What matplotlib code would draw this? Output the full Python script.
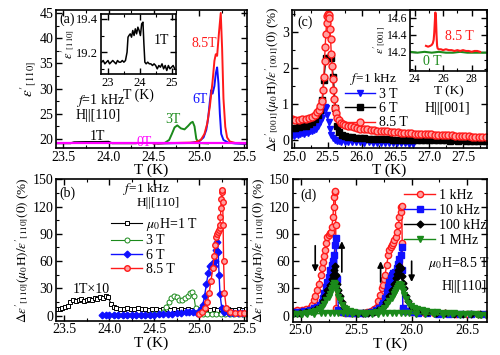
#coding:utf-8
'''
Four panels of dielectric constant vs temperature, with two insets.
'''
import matplotlib
matplotlib.use('Agg')
import matplotlib.pyplot as plt
from matplotlib.ticker import MultipleLocator

plt.rcParams['font.family'] = ['Liberation Serif', 'DejaVu Serif']
plt.rcParams['mathtext.fontset'] = 'stix'
plt.rcParams['font.size'] = 10
plt.rcParams['axes.linewidth'] = 1.2

RED = '#ff1a1a'
PINK = '#ffa0a0'
BLUE = '#1010ff'
GREEN = '#1b8a1b'
MAG = '#ff00ff'

# ---- panel (a): eps'[110] vs T, H||[110], f=1 kHz
a_T0 = [23.42, 23.8, 24.2, 24.6, 25.0, 25.3, 25.53]
a_e0 = [19.1, 19.1, 19.1, 19.1, 19.1, 19.1, 19.1]
a_T1 = [23.42, 23.58, 23.62, 23.75, 23.9, 24.0, 24.04, 24.3]
a_e1 = [19.15, 19.15, 19.35, 19.4, 19.4, 19.45, 19.15, 19.15]
a_T3 = [24.55, 24.62, 24.67, 24.70, 24.73, 24.76, 24.80, 24.84, 24.88, 24.91, 24.93, 24.95, 24.97, 25.00, 25.10]
a_e3 = [19.1, 19.2, 19.8, 21.0, 22.3, 22.7, 22.1, 21.9, 22.6, 23.2, 23.4, 22.5, 20.0, 19.2, 19.1]
a_T6 = [24.5, 24.9, 25.0, 25.05, 25.08, 25.10, 25.12, 25.135, 25.15, 25.17, 25.185, 25.2, 25.215, 25.23, 25.245, 25.27, 25.32, 25.4, 25.53]
a_e6 = [19.1, 19.2, 19.5, 20.3, 21.8, 24.0, 27.5, 29.7, 29.0, 30.5, 33.0, 34.2, 31.0, 25.0, 21.0, 19.8, 19.3, 19.1, 19.0]
a_T85 = [24.5, 24.95, 25.02, 25.06, 25.09, 25.12, 25.15, 25.17, 25.185, 25.2, 25.22, 25.24, 25.255, 25.27, 25.29, 25.31, 25.34, 25.4, 25.53]
a_e85 = [19.1, 19.3, 19.8, 21.0, 23.0, 26.5, 31.5, 35.5, 36.8, 36.5, 41.0, 45.0, 38.0, 28.0, 22.4, 20.3, 19.5, 19.2, 19.1]

# inset of (a): 1T zoom
ia_T = [22.80, 22.85, 22.90, 22.95, 23.00, 23.05, 23.10, 23.15, 23.20, 23.25,
        23.30, 23.35, 23.40, 23.45, 23.50, 23.55, 23.60, 23.63, 23.66, 23.70,
        23.74, 23.78, 23.82, 23.86, 23.90, 23.94, 23.98, 24.02, 24.06, 24.10,
        24.13, 24.16, 24.20, 24.25, 24.30, 24.35, 24.40, 24.45, 24.50, 24.55,
        24.60, 24.65, 24.70, 24.75, 24.80, 24.85, 24.90, 24.95, 25.00, 25.05, 25.10]
ia_e = [19.14, 19.15, 19.13, 19.14, 19.15, 19.13, 19.14, 19.15, 19.14, 19.13,
        19.15, 19.14, 19.14, 19.15, 19.14, 19.15, 19.20, 19.29, 19.30, 19.31,
        19.29, 19.33, 19.30, 19.34, 19.31, 19.35, 19.33, 19.30, 19.37, 19.38,
        19.25, 19.14, 19.13, 19.14, 19.13, 19.13, 19.12, 19.13, 19.12, 19.10,
        19.12, 19.11, 19.13, 19.10, 19.12, 19.09, 19.12, 19.10, 19.11, 19.12, 19.10]

# ---- panel (b): relative change, H||[110]
b_T1 = [23.42, 23.45, 23.48, 23.51, 23.54, 23.57, 23.60, 23.63, 23.66, 23.69,
        23.72, 23.75, 23.78, 23.81, 23.84, 23.87, 23.90, 23.93, 23.96, 23.99,
        24.02, 24.05, 24.08, 24.12, 24.16, 24.20, 24.24, 24.28, 24.32, 24.36,
        24.40, 24.44, 24.48, 24.52, 24.56, 24.60, 24.64, 24.68, 24.72, 24.76,
        24.80, 24.84, 24.88, 24.92, 24.96, 25.00, 25.04, 25.08, 25.12, 25.16,
        25.20, 25.24, 25.28, 25.32, 25.36, 25.40, 25.44, 25.48, 25.52, 25.55]
b_y1 = [7, 7, 8, 9, 11, 15, 17, 16, 17, 18,
        16, 17, 18, 17, 19, 18, 20, 19, 22, 20,
        13, 9, 8, 7, 7, 8, 7, 7, 8, 7,
        7, 6, 7, 7, 6, 7, 7, 6, 7, 6,
        7, 6, 7, 6, 6, 7, 6, 7, 6, 7,
        6, 7, 6, 7, 6, 6, 7, 6, 7, 6]
b_T3 = [24.05, 24.10, 24.15, 24.20, 24.25, 24.30, 24.35, 24.40, 24.45, 24.50,
        24.55, 24.60, 24.63, 24.66, 24.69, 24.72, 24.75, 24.78, 24.81, 24.84,
        24.87, 24.90, 24.92, 24.94, 24.96, 24.99, 25.04, 25.09, 25.14, 25.19,
        25.24, 25.29, 25.34, 25.39, 25.44, 25.49, 25.54]
b_y3 = [1, 1, 1, 1, 1, 1, 1, 1, 1, 1.5,
        2, 4, 9, 15, 19, 21, 20, 17, 17, 19,
        22, 25, 26, 22, 8, 3, 2, 2, 2, 2,
        2, 2, 2, 2, 2, 2, 2]
b_T6 = [23.92, 23.96, 24.00, 24.05, 24.10, 24.15, 24.20, 24.25, 24.30, 24.35,
        24.40, 24.45, 24.50, 24.55, 24.60, 24.65, 24.70, 24.75, 24.80, 24.85,
        24.89, 24.93, 24.97, 25.00, 25.02, 25.04, 25.06, 25.08, 25.10, 25.12,
        25.14, 25.16, 25.18, 25.19, 25.20, 25.21, 25.22, 25.23, 25.25, 25.28,
        25.33, 25.38, 25.43, 25.48, 25.54]
b_y6 = [1, 1, 1, 1, 1, 1, 1, 1, 1, 1,
        1, 1, 1, 1.5, 1.5, 2, 2, 2.5, 3, 3.5,
        4, 3.5, 3, 4, 7, 12, 22, 35, 47, 55,
        57, 55, 60, 72, 81, 70, 45, 24, 8, 4,
        3, 3, 3, 3, 3]
b_T85 = [25.00, 25.03, 25.06, 25.09, 25.11, 25.13, 25.15, 25.165, 25.175, 25.185,
         25.195, 25.205, 25.215, 25.225, 25.23, 25.235, 25.24, 25.245, 25.25, 25.255,
         25.26, 25.265, 25.27, 25.28, 25.30, 25.34, 25.40, 25.45, 25.50, 25.55]
b_y85 = [2, 4, 8, 15, 25, 38, 52, 66, 78, 86,
         90, 92, 94, 96, 100, 108, 118, 128, 136, 138,
         125, 100, 60, 25, 8, 4, 3, 3, 3, 3]

# ---- panel (c): relative change, H||[001]
c_T3 = [24.97, 25.00, 25.03, 25.06, 25.09, 25.12, 25.15, 25.18, 25.21, 25.24,
        25.27, 25.30, 25.33, 25.36, 25.39, 25.41, 25.43, 25.45, 25.47, 25.49,
        25.51, 25.53, 25.55, 25.57, 25.60, 25.63, 25.66, 25.70, 25.75, 25.80,
        25.86, 25.92, 25.98, 26.04, 26.10, 26.16, 26.22, 26.28, 26.34, 26.40,
        26.46, 26.52, 26.58, 26.64, 26.70, 26.76]
c_y3 = [0.15, 0.12, 0.18, 0.14, 0.17, 0.20, 0.18, 0.22, 0.20, 0.24,
        0.25, 0.28, 0.32, 0.40, 0.50, 0.62, 0.80, 0.92, 0.88, 0.70,
        0.50, 0.30, 0.15, 0.05, 0.00, -0.02, -0.03, -0.04, -0.05, -0.05,
        -0.06, -0.05, -0.06, -0.07, -0.06, -0.07, -0.08, -0.07, -0.08, -0.08,
        -0.08, -0.09, -0.08, -0.09, -0.10, -0.10]
c_T6 = [24.97, 25.02, 25.07, 25.12, 25.17, 25.22, 25.27, 25.31, 25.35, 25.39,
        25.42, 25.44, 25.47, 25.51, 25.55, 25.58, 25.61, 25.64, 25.67, 25.71,
        25.75, 25.80, 25.86, 25.92, 25.98, 26.04, 26.10, 26.16, 26.22, 26.28,
        26.34, 26.40, 26.46, 26.52, 26.58, 26.64, 26.70, 26.76, 26.82, 26.88,
        26.94, 27.00, 27.06, 27.12, 27.18, 27.24, 27.30, 27.36, 27.42, 27.48,
        27.54, 27.60, 27.66, 27.72, 27.78, 27.83]
c_y6 = [0.35, 0.33, 0.36, 0.38, 0.40, 0.44, 0.50, 0.58, 0.70, 0.85,
        1.12, 1.68, 2.28, 2.28, 2.28, 1.75, 0.90, 0.40, 0.22, 0.15,
        0.12, 0.10, 0.08, 0.06, 0.05, 0.05, 0.04, 0.03, 0.03, 0.02,
        0.02, 0.02, 0.01, 0.01, 0.00, 0.00, 0.01, 0.00, -0.01, 0.00,
        -0.01, 0.00, -0.01, -0.01, 0.00, -0.01, -0.02, -0.01, -0.02, -0.01,
        -0.02, -0.02, -0.03, -0.02, -0.03, -0.03]
c_T85 = [24.97, 25.02, 25.07, 25.12, 25.17, 25.22, 25.27, 25.31, 25.34, 25.37,
         25.39, 25.41, 25.43, 25.44, 25.45, 25.46, 25.47, 25.48, 25.49, 25.50,
         25.51, 25.52, 25.53, 25.54, 25.55, 25.56, 25.57, 25.58, 25.59, 25.60,
         25.62, 25.64, 25.66, 25.69, 25.72, 25.76, 25.80, 25.84, 25.88, 25.93,
         25.98, 26.03, 26.08, 26.13, 26.18, 26.23, 26.28, 26.33, 26.38, 26.43,
         26.48, 26.53, 26.58, 26.63, 26.68, 26.73, 26.78, 26.83, 26.88, 26.93,
         26.98, 27.03, 27.08, 27.13, 27.18, 27.23, 27.28, 27.33, 27.38, 27.43,
         27.48, 27.53, 27.58, 27.63, 27.68, 27.73, 27.78, 27.83]
c_y85 = [0.58, 0.55, 0.57, 0.60, 0.58, 0.62, 0.64, 0.70, 0.78, 0.85,
         0.95, 1.10, 1.40, 1.75, 2.20, 2.60, 2.95, 3.25, 3.45, 3.50,
         3.48, 3.40, 3.10, 2.80, 2.40, 2.05, 1.70, 1.40, 1.15, 0.90,
         0.75, 0.62, 0.55, 0.48, 0.45, 0.42, 0.40, 0.38, 0.36, 0.33,
         0.32, 0.30, 0.30, 0.28, 0.27, 0.26, 0.26, 0.25, 0.24, 0.23,
         0.22, 0.22, 0.21, 0.20, 0.20, 0.19, 0.18, 0.18, 0.17, 0.17,
         0.16, 0.16, 0.15, 0.15, 0.14, 0.14, 0.13, 0.13, 0.12, 0.12,
         0.12, 0.11, 0.11, 0.10, 0.10, 0.10, 0.09, 0.09]

# inset of (c): eps'[001]
ic_T85 = [24.80, 24.95, 25.10, 25.20, 25.28, 25.34, 25.38, 25.42, 25.46, 25.50,
          25.54, 25.58, 25.62, 25.70, 25.85, 26.00, 26.20, 26.40, 26.60, 26.80,
          27.00, 27.20, 27.40, 27.60, 27.80, 28.00, 28.20, 28.40, 28.60]
ic_e85 = [14.27, 14.26, 14.27, 14.28, 14.30, 14.34, 14.42, 14.55, 14.66, 14.60,
          14.40, 14.27, 14.24, 14.23, 14.23, 14.22, 14.23, 14.22, 14.22, 14.21,
          14.22, 14.21, 14.22, 14.21, 14.21, 14.20, 14.21, 14.21, 14.20]
ic_T0 = [23.7, 24.2, 24.7, 25.2, 25.7, 26.2, 26.7, 27.2, 27.7, 28.2, 28.7, 29.05]
ic_e0 = [14.20, 14.19, 14.20, 14.19, 14.20, 14.19, 14.19, 14.20, 14.19, 14.19, 14.19, 14.19]
ic_yticks = [14.2, 14.4, 14.6]

# ---- panel (d): frequency dependence at 8.5 T
d_T1 = [24.93, 24.97, 25.01, 25.05, 25.08, 25.10, 25.12, 25.13, 25.15, 25.16,
        25.18, 25.19, 25.20, 25.21, 25.22, 25.23, 25.24, 25.25, 25.26, 25.27,
        25.28, 25.29, 25.295, 25.30, 25.305, 25.31, 25.315, 25.32, 25.36, 25.40,
        25.44, 25.48, 25.52, 25.56, 25.60, 25.63, 25.66, 25.685, 25.70, 25.715,
        25.73, 25.74, 25.75, 25.76, 25.775, 25.79, 25.80, 25.81, 25.82, 25.83,
        25.845, 25.86, 25.87, 25.88, 25.89, 25.90, 25.905, 25.91, 25.915, 25.92,
        25.95, 26.00, 26.06, 26.12, 26.20, 26.30, 26.40, 26.50, 26.60, 26.67]
d_y1 = [5, 6, 6, 7, 9, 12, 17, 22, 28, 35,
        45, 52, 59, 66, 72, 80, 86, 89, 91, 92,
        98, 108, 120, 131, 136, 137, 100, 8, 4, 3,
        3, 3, 3, 3, 4, 5, 7, 10, 16, 23,
        30, 34, 40, 45, 56, 67, 72, 76, 78, 80,
        83, 86, 92, 100, 108, 114, 119, 121, 80, 8,
        5, 4, 4, 3, 3, 3, 2, 2, 2, 2]
d_T2 = [24.93, 24.98, 25.03, 25.08, 25.12, 25.15, 25.17, 25.19, 25.20, 25.21,
        25.23, 25.24, 25.25, 25.265, 25.28, 25.29, 25.30, 25.31, 25.32, 25.325,
        25.34, 25.38, 25.43, 25.48, 25.53, 25.58, 25.63, 25.68, 25.71, 25.73,
        25.745, 25.76, 25.775, 25.79, 25.80, 25.81, 25.82, 25.835, 25.85, 25.865,
        25.88, 25.89, 25.90, 25.91, 25.915, 25.92, 25.95, 26.00, 26.06, 26.14,
        26.24, 26.34, 26.44, 26.54, 26.64]
d_y2 = [4, 4, 5, 6, 8, 10, 12, 15, 20, 25,
        32, 37, 43, 50, 56, 60, 67, 78, 85, 40,
        6, 4, 3, 3, 3, 3, 4, 6, 9, 12,
        14, 20, 26, 32, 37, 42, 45, 47, 48, 52,
        57, 62, 67, 76, 50, 8, 5, 4, 3, 3,
        2, 2, 2, 2, 2]
d_T3 = [24.93, 24.99, 25.05, 25.10, 25.14, 25.17, 25.20, 25.22, 25.24, 25.26,
        25.28, 25.29, 25.30, 25.31, 25.32, 25.33, 25.34, 25.35, 25.37, 25.39,
        25.42, 25.46, 25.51, 25.56, 25.61, 25.66, 25.70, 25.74, 25.77, 25.80,
        25.82, 25.84, 25.86, 25.87, 25.88, 25.89, 25.90, 25.91, 25.92, 25.93,
        25.95, 25.97, 26.00, 26.04, 26.09, 26.15, 26.22, 26.30, 26.38, 26.46,
        26.54, 26.62]
d_y3 = [3, 3, 4, 5, 7, 10, 16, 22, 28, 34,
        40, 45, 50, 55, 45, 35, 28, 22, 15, 10,
        6, 4, 3, 3, 3, 4, 6, 10, 15, 22,
        28, 35, 42, 46, 50, 55, 52, 44, 36, 30,
        22, 16, 10, 7, 5, 4, 3, 3, 2, 2,
        2, 2]
d_T4 = [24.93, 24.97, 25.01, 25.05, 25.09, 25.13, 25.16, 25.19, 25.21, 25.23,
        25.25, 25.26, 25.27, 25.28, 25.29, 25.30, 25.31, 25.32, 25.33, 25.34,
        25.35, 25.37, 25.39, 25.41, 25.44, 25.48, 25.52, 25.56, 25.60, 25.64,
        25.68, 25.72, 25.75, 25.78, 25.80, 25.82, 25.84, 25.85, 25.86, 25.87,
        25.88, 25.89, 25.90, 25.91, 25.92, 25.93, 25.95, 25.97, 25.99, 26.02,
        26.05, 26.09, 26.13, 26.18, 26.23, 26.28, 26.33, 26.38, 26.43, 26.48,
        26.53, 26.58, 26.63, 26.67]
d_y4 = [2, 2, 2, 3, 4, 5, 7, 10, 13, 17,
        21, 24, 28, 31, 34, 36, 35, 31, 26, 21,
        17, 12, 9, 7, 5, 4, 3, 3, 3, 3,
        4, 6, 9, 13, 16, 20, 24, 26, 28, 30,
        33, 35, 34, 31, 27, 23, 18, 14, 11, 8,
        7, 6, 5, 4, 4, 3, 3, 3, 2, 2,
        2, 2, 1, 1]
# 1 MHz return sweep (baseline branch)
d_T4r = [26.67, 26.60, 26.52, 26.44, 26.36, 26.28, 26.20, 26.12, 26.04, 25.98,
         25.94, 25.90, 25.86, 25.82, 25.78, 25.74, 25.70, 25.64, 25.58, 25.52,
         25.46, 25.42, 25.38, 25.34, 25.30, 25.26, 25.22, 25.18, 25.12, 25.06,
         25.00, 24.93]
d_y4r = [1, 1, 1.5, 1, 1.5, 1, 1.5, 2, 2, 2.5,
         3, 3, 3, 3, 2.5, 2.5, 2, 2, 2, 2,
         2, 2.5, 3, 3, 3, 3, 3, 2.5, 2, 2,
         1.5, 1.5]


def style(ax, xmaj, xmin, ymaj, ymin, size=10):
    ax.xaxis.set_major_locator(MultipleLocator(xmaj))
    ax.xaxis.set_minor_locator(MultipleLocator(xmin))
    ax.yaxis.set_major_locator(MultipleLocator(ymaj))
    ax.yaxis.set_minor_locator(MultipleLocator(ymin))
    ax.tick_params(which='both', direction='in', top=True, right=True, labelsize=size, pad=2)
    ax.tick_params(which='major', length=4, width=1)
    ax.tick_params(which='minor', length=2, width=0.8)


fig = plt.figure(figsize=(5, 3.55), dpi=100)

# ================= (a)
ax = fig.add_axes([0.112, 0.583, 0.382, 0.389])
ax.plot(a_T1, a_e1, color='k', lw=1.4)
ax.plot(a_T3, a_e3, color=GREEN, lw=1.4)
ax.plot(a_T6, a_e6, color=BLUE, lw=1.4)
ax.plot(a_T85, a_e85, color=RED, lw=1.4)
ax.plot(a_T0, a_e0, color=MAG, lw=1.6)
ax.set_xlim(23.42, 25.53)
ax.set_ylim(18.2, 45.6)
style(ax, 0.5, 0.25, 5, 2.5)
ax.set_xlabel('T (K)', fontsize=11, labelpad=0)
ax.set_ylabel(r"$\varepsilon'_{[110]}$", fontsize=11, labelpad=1)
ax.text(0.02, 0.93, '(a)', transform=ax.transAxes, va='center', fontsize=10)
ax.text(0.105, 0.345, r'$f$=1 kHz', transform=ax.transAxes, va='center', fontsize=10)
ax.text(0.10, 0.235, 'H||[110]', transform=ax.transAxes, va='center', fontsize=10)
ax.text(0.178, 0.085, '1T', transform=ax.transAxes, va='center', fontsize=10)
ax.text(0.42, 0.04, '0T', transform=ax.transAxes, va='center', fontsize=10, color=MAG)
ax.text(0.574, 0.208, '3T', transform=ax.transAxes, va='center', fontsize=10, color=GREEN)
ax.text(0.712, 0.353, '6T', transform=ax.transAxes, va='center', fontsize=10, color=BLUE)
ax.text(0.712, 0.759, '8.5T', transform=ax.transAxes, va='center', fontsize=10, color=RED)

# inset (a)
ax = fig.add_axes([0.202, 0.792, 0.15, 0.169])
ax.plot(ia_T, ia_e, color='k', lw=1.1)
ax.set_xlim(22.78, 25.14)
ax.set_ylim(19.07, 19.43)
style(ax, 1, 0.5, 0.2, 0.1, size=9)
ax.set_xlabel('T (K)', fontsize=10, labelpad=0)
ax.set_ylabel(r"$\varepsilon'_{[110]}$", fontsize=9, labelpad=0)
ax.text(0.70, 0.55, '1T', transform=ax.transAxes, va='center', fontsize=10)

# ================= (b)
ax = fig.add_axes([0.112, 0.097, 0.382, 0.398])
ax.plot(b_T1, b_y1, color='k', lw=0.8, marker='s', ms=3.2, mfc='white', mec='k', mew=0.7,
        label=r'$\mu_0$H=1 T')
ax.plot(b_T3, b_y3, color=GREEN, lw=0.8, marker='o', ms=3.6, mfc='white', mec=GREEN, mew=0.7,
        label='3 T')
ax.plot(b_T6, b_y6, color=BLUE, lw=1.0, marker='D', ms=3.4, mfc=BLUE, mec=BLUE,
        label='6 T')
ax.plot(b_T85, b_y85, color=RED, lw=1.0, marker='o', ms=4, mfc=PINK, mec=RED, mew=1,
        label='8.5 T')
ax.set_xlim(23.41, 25.53)
ax.set_ylim(-5.5, 150)
style(ax, 0.5, 0.25, 30, 15)
ax.set_xlabel('T (K)', fontsize=11, labelpad=0)
ax.set_ylabel(r"$\Delta\varepsilon'_{[110]}(\mu_0$H$)/\varepsilon'_{[110]}(0)$ (%)", fontsize=9.5, labelpad=1)
ax.text(0.02, 0.90, '(b)', transform=ax.transAxes, va='center', fontsize=10)
ax.text(0.35, 0.93, r'$f$=1 kHz', transform=ax.transAxes, va='center', fontsize=9.5)
ax.text(0.42, 0.83, 'H||[110]', transform=ax.transAxes, va='center', fontsize=9.5)
ax.text(0.09, 0.217, '1T×10', transform=ax.transAxes, va='center', fontsize=10)
ax.legend(loc='upper left', bbox_to_anchor=(0.29, 0.74), frameon=False, fontsize=10,
          handlelength=2.2, handletextpad=0.3, labelspacing=0.1, borderpad=0, borderaxespad=0)

# ================= (c)
ax = fig.add_axes([0.584, 0.583, 0.39, 0.389])
ax.plot(c_T3, c_y3, color=BLUE, lw=1.0, marker='v', ms=4.5, mfc=BLUE, mec=BLUE, label='3 T')
ax.plot(c_T6, c_y6, color='k', lw=1.0, marker='s', ms=4.5, mfc='k', mec='k', label='6 T')
ax.plot(c_T85, c_y85, color=RED, lw=1.0, marker='o', ms=5, mfc=PINK, mec=RED, mew=1, label='8.5 T')
ax.set_xlim(24.97, 27.85)
ax.set_ylim(-0.22, 3.62)
style(ax, 0.5, 0.25, 1, 0.5)
ax.set_xlabel('T (K)', fontsize=11, labelpad=0)
ax.set_ylabel(r"$\Delta\varepsilon'_{[001]}(\mu_0$H$)/\varepsilon'_{[001]}(0)$ (%)", fontsize=9.5, labelpad=1)
ax.text(0.03, 0.908, '(c)', transform=ax.transAxes, va='center', fontsize=10)
ax.text(0.297, 0.497, r'$f$=1 kHz', transform=ax.transAxes, va='center', fontsize=9.5)
ax.text(0.68, 0.287, 'H||[001]', transform=ax.transAxes, va='center', fontsize=10)
ax.legend(loc='upper left', bbox_to_anchor=(0.27, 0.437), frameon=False, fontsize=10,
          handlelength=2.2, handletextpad=0.3, labelspacing=0.1, borderpad=0, borderaxespad=0)

# inset (c)
ax = fig.add_axes([0.82, 0.801, 0.154, 0.171])
ax.plot(ic_T0, ic_e0, color=GREEN, lw=1.5)
ax.plot(ic_T85, ic_e85, color=RED, lw=1.5)
ax.set_xlim(23.68, 29.08)
ax.set_ylim(13.98, 14.69)
style(ax, 2, 1, 0.2, 0.1, size=8.5)
ax.set_yticks(ic_yticks)
ax.set_xlabel('T (K)', fontsize=9.5, labelpad=0)
ax.set_ylabel(r"$\varepsilon'_{[001]}$", fontsize=8.5, labelpad=0)
ax.text(0.45, 0.57, '8.5 T', transform=ax.transAxes, va='center', fontsize=10, color=RED)
ax.text(0.17, 0.15, '0 T', transform=ax.transAxes, va='center', fontsize=10, color=GREEN)

# ================= (d)
ax = fig.add_axes([0.585, 0.094, 0.389, 0.401])
ax.plot(d_T1, d_y1, color=RED, lw=1.0, marker='o', ms=4.5, mfc=PINK, mec=RED, mew=1, label='1 kHz')
ax.plot(d_T2, d_y2, color=BLUE, lw=1.0, marker='s', ms=3.8, mfc=BLUE, mec=BLUE, label='10 kHz')
ax.plot(d_T3, d_y3, color='k', lw=1.0, marker='D', ms=3.5, mfc='k', mec='k', label='100 kHz')
ax.plot(d_T4, d_y4, color=GREEN, lw=1.0, marker='v', ms=4.2, mfc=GREEN, mec=GREEN, label='1 MHz')
ax.plot(d_T4r, d_y4r, color=GREEN, lw=1.0, marker='v', ms=4.2, mfc=GREEN, mec=GREEN)
ax.set_xlim(24.925, 26.68)
ax.set_ylim(-6.5, 150)
style(ax, 0.5, 0.25, 30, 15)
ax.set_xlabel('T (K)', fontsize=11, labelpad=0)
ax.set_ylabel(r"$\Delta\varepsilon'_{[110]}(\mu_0$H$)/\varepsilon'_{[110]}(0)$ (%)", fontsize=9.5, labelpad=1)
ax.text(0.04, 0.89, '(d)', transform=ax.transAxes, va='center', fontsize=10)
ax.text(0.697, 0.41, r'$\mu_0$H=8.5 T', transform=ax.transAxes, va='center', fontsize=10)
ax.text(0.765, 0.25, 'H||[110]', transform=ax.transAxes, va='center', fontsize=10)
ax.legend(loc='upper left', bbox_to_anchor=(0.575, 0.935), frameon=False, fontsize=10,
          handlelength=2.2, handletextpad=0.3, labelspacing=0.15, borderpad=0, borderaxespad=0)
arrow = dict(arrowstyle='-|>', color='k', lw=1.2, mutation_scale=9)
ax.annotate('', xy=(25.13, 45), xytext=(25.13, 80), arrowprops=arrow)
ax.annotate('', xy=(25.37, 85), xytext=(25.37, 45), arrowprops=arrow)
ax.annotate('', xy=(25.72, 63), xytext=(25.72, 34), arrowprops=arrow)
ax.annotate('', xy=(26.0, 34), xytext=(26.0, 63), arrowprops=arrow)

plt.savefig('out.png', dpi=100)
